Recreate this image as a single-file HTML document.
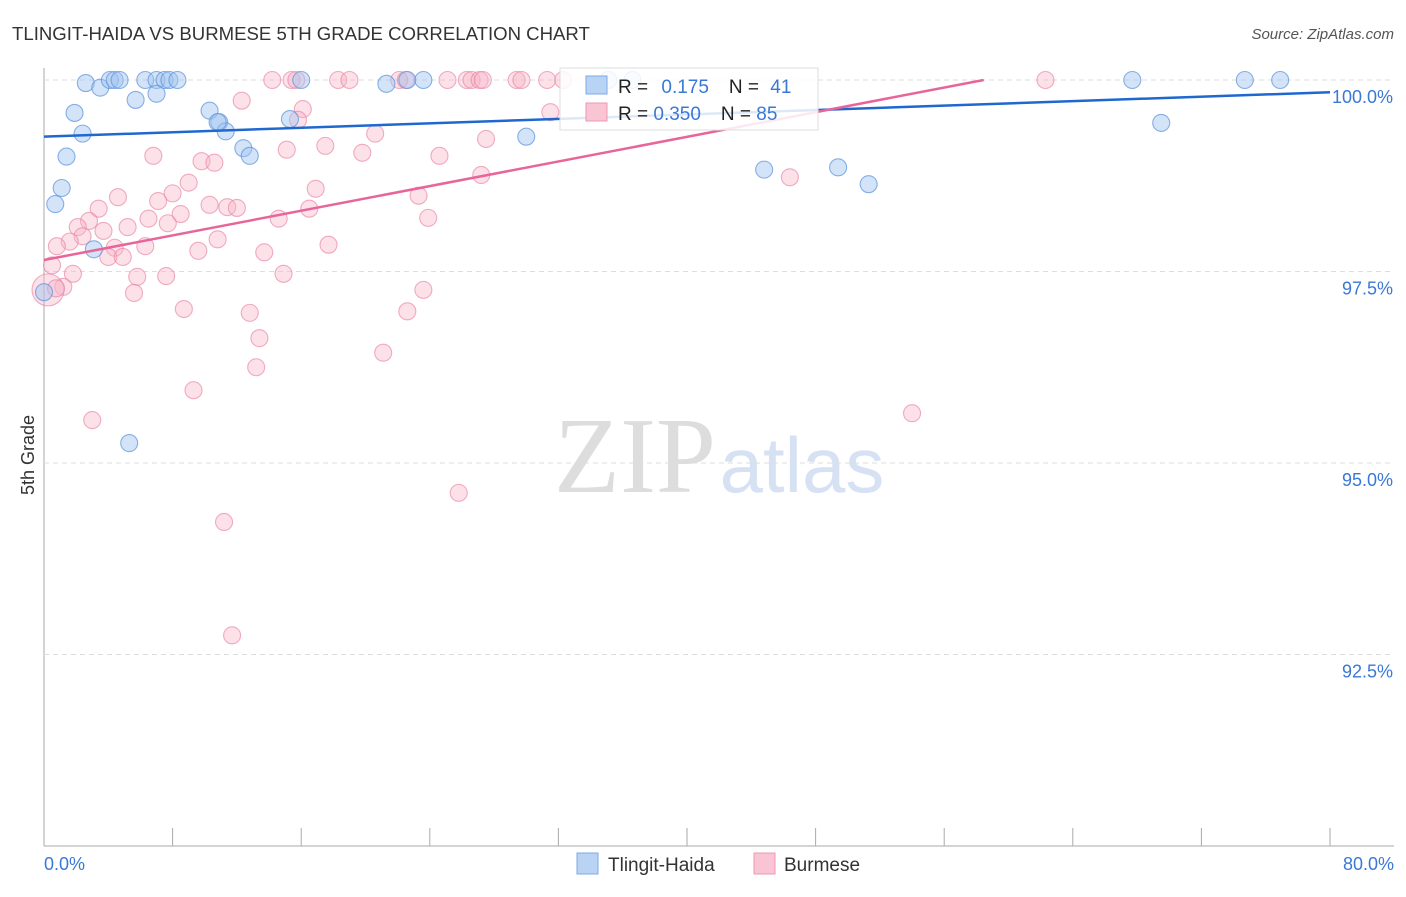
<!DOCTYPE html>
<html><head><meta charset="utf-8"><style>
body{margin:0;background:#fff;font-family:"Liberation Sans",sans-serif}
</style></head><body>
<svg id="c" width="1406" height="892" xmlns="http://www.w3.org/2000/svg" style="font-family:'Liberation Sans',sans-serif">
<text x="12" y="40" font-size="18.6" fill="#333">TLINGIT-HAIDA VS BURMESE 5TH GRADE CORRELATION CHART</text>
<text x="1394" y="39" font-size="15" fill="#555" font-style="italic" text-anchor="end">Source: ZipAtlas.com</text>
<text x="635" y="492" font-size="108" fill="#ddd" font-family="Liberation Serif" text-anchor="middle">ZIP</text>
<text x="802" y="492" font-size="78" fill="#d6e2f4" text-anchor="middle">atlas</text>
<g id="grid"></g><g id="pts"></g><g id="lines"></g>
<text transform="translate(34,455) rotate(-90)" font-size="18" fill="#333" text-anchor="middle">5th Grade</text>
<g>
<rect x="560" y="68" width="258" height="62" fill="#fff" fill-opacity="0.85" stroke="#ddd"/>
<rect x="586" y="76" width="21" height="18" fill="#b9d3f5" stroke="#7ea9e6"/>
<rect x="586" y="103" width="21" height="18" fill="#f9c4d4" stroke="#eb9ab4"/>
<text x="618" y="93" font-size="19" fill="#222">R = <tspan fill="#3a78d6" dx="8">0.175</tspan><tspan dx="20" fill="#222">N = </tspan><tspan dx="6" fill="#3a78d6">41</tspan></text>
<text x="618" y="120" font-size="19" fill="#222">R = <tspan fill="#3a78d6">0.350</tspan><tspan dx="20" fill="#222">N = </tspan><tspan fill="#3a78d6">85</tspan></text>
</g>
<g>
<rect x="577" y="853" width="21" height="21" fill="#b9d3f5" stroke="#7ea9e6"/>
<text x="608" y="871" font-size="19" fill="#333">Tlingit-Haida</text>
<rect x="754" y="853" width="21" height="21" fill="#f9c4d4" stroke="#eb9ab4"/>
<text x="784" y="871" font-size="19" fill="#333">Burmese</text>
</g>
</svg>
<script>
const xTicks=[0,8,16,24,32,40,48,56,64,72,80];
const yTicks=[100,97.5,95,92.5];
const yTickLabels=["100.0%","97.5%","95.0%","92.5%"];
const blueX=[2.6,3.5,4.1,4.4,4.7,6.3,7.0,7.5,7.8,8.3,7.0,5.7,1.9,2.4,1.4,1.1,0.7,3.1,10.3,10.9,11.3,12.4,12.8,15.3,16.0,21.3,22.6,23.6,30.0,35.1,36.6,44.8,49.4,51.3,67.7,69.5,74.7,76.9,5.3,0.0,10.8];
const blueY=[99.96,99.9,100,100,100,100,100,100,100,100,99.82,99.74,99.57,99.3,99.0,98.59,98.38,97.79,99.6,99.45,99.33,99.11,99.01,99.49,100,99.95,100,100,99.26,100,100,98.83,98.86,98.64,100,99.44,100,100,95.26,97.23,99.45];
const pinkX=[14.2,15.4,15.7,18.3,19.0,22.1,22.5,25.1,26.3,26.6,27.1,29.4,29.7,31.3,32.3,62.3,12.3,16.1,15.8,31.5,20.6,27.5,17.5,15.1,19.8,24.6,6.8,9.8,10.6,27.2,9.0,16.9,8.0,4.6,23.3,7.1,3.4,10.3,11.4,12.0,16.5,8.5,6.5,2.8,23.9,14.6,7.7,5.2,2.1,3.7,2.4,1.6,0.8,10.8,17.7,6.3,4.4,9.6,13.7,4.0,4.9,0.5,1.8,7.6,5.8,14.9,1.2,0.25,5.6,23.6,12.8,8.7,22.6,13.4,21.1,13.2,9.3,3.0,54.0,25.8,11.2,11.7,46.4,0.75,27.3];
const pinkY=[100,100,100,100,100,100,100,100,100,100,100,100,100,100,100,100,99.73,99.62,99.48,99.58,99.3,99.23,99.14,99.09,99.05,99.01,99.01,98.94,98.92,98.76,98.66,98.58,98.52,98.47,98.49,98.42,98.32,98.37,98.34,98.33,98.32,98.25,98.19,98.16,98.2,98.19,98.13,98.08,98.08,98.03,97.96,97.89,97.83,97.92,97.85,97.83,97.81,97.77,97.75,97.69,97.69,97.58,97.47,97.44,97.43,97.47,97.3,97.26,97.22,97.26,96.96,97.01,96.98,96.63,96.44,96.25,95.95,95.56,95.65,94.61,94.23,92.75,98.73,97.28,100];
const blueLine=[99.26,99.84];
const pinkLine=[97.65,0.0402];
const NS="http://www.w3.org/2000/svg";
const X=v=>44+v*16.075, Y=v=>80+(100-v)*76.6;
function mk(t,a,p){const e=document.createElementNS(NS,t);for(const k in a)e.setAttribute(k,a[k]);document.getElementById(p).appendChild(e);return e;}
const ax=mk('line',{x1:44,y1:68,x2:44,y2:846,stroke:'#aaa'},'grid');


const bx=mk('line',{x1:44,y1:846,x2:1394,y2:846,stroke:'#aaa'},'grid');


xTicks.forEach(t=>{const e=mk('line',{x1:X(t),y1:828,x2:X(t),y2:846,stroke:'#aaa'},'grid');

});
yTicks.forEach((t,i)=>{const g=mk('line',{x1:44,y1:Y(t),x2:1394,y2:Y(t),stroke:'#ddd','stroke-dasharray':'5,4'},'grid');


const l=mk('text',{x:1393,y:Y(t)+23,'font-size':18,fill:'#3a78d6','text-anchor':'end'},'grid');l.textContent=yTickLabels[i];

});
const x0=mk('text',{x:44,y:870,'font-size':18,fill:'#3a78d6'},'grid');x0.textContent='0.0%';


const x1=mk('text',{x:1394,y:870,'font-size':18,fill:'#3a78d6','text-anchor':'end'},'grid');x1.textContent='80.0%';


pinkX.forEach((v,i)=>{const c=mk('circle',{cx:X(v),cy:Y(pinkY[i]),r:i==67?16:8.5,fill:'rgba(248,180,200,0.4)',stroke:'rgba(232,130,165,0.65)','stroke-width':1.1},'pts');

});
blueX.forEach((v,i)=>{const c=mk('circle',{cx:X(v),cy:Y(blueY[i]),r:8.5,fill:'rgba(160,196,240,0.45)',stroke:'rgba(90,145,220,0.7)','stroke-width':1.1},'pts');

});
const bl=mk('line',{x1:X(0),y1:Y(blueLine[0]),x2:X(80),y2:Y(blueLine[1]),stroke:'#1f68d0','stroke-width':2.5},'lines');


const xe=(100-pinkLine[0])/pinkLine[1];
const pl=mk('line',{x1:X(0),y1:Y(pinkLine[0]),x2:X(xe),y2:Y(100),stroke:'#e8659a','stroke-width':2.5},'lines');


</script>
</body></html>
